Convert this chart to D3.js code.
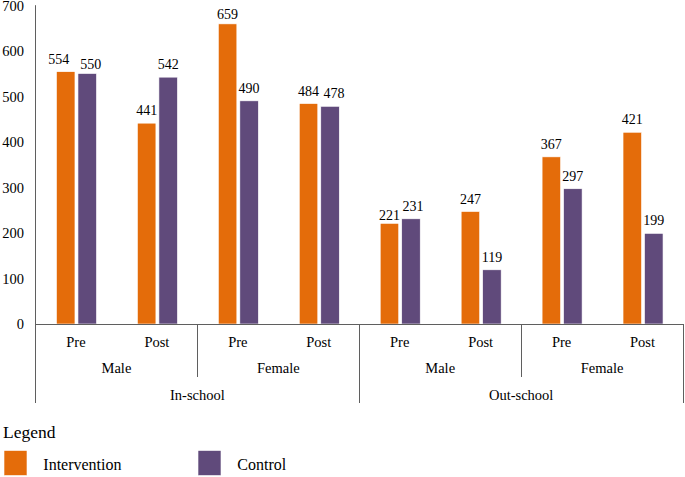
<!DOCTYPE html>
<html>
<head>
<meta charset="utf-8">
<script src="https://cdn.jsdelivr.net/npm/d3@7"></script>
<style>
  html, body { margin: 0; padding: 0; background: #fff; }
  text { font-family: "Liberation Serif"; }
</style>
</head>
<body>
<svg id="chart" width="685" height="477" font-family="Liberation Serif"></svg>
<script>
// ---- data ----
const schools = ["In-school", "Out-school"];
const genders = ["Male", "Female"];
const phases = ["Pre", "Post"];
const seriesNames = ["Intervention", "Control"];
const intervention = [554, 441, 659, 484, 221, 247, 367, 421];
const control = [550, 542, 490, 478, 231, 119, 297, 199];
const yTicks = [0, 100, 200, 300, 400, 500, 600, 700];
const colors = ["#E46C0A", "#604A7B"];
// manual label nudges (layout only): [dx, dy] per category, per series
const nudgeIntervention = [[-7, 0], [0, 0], [0, 3], [0, 0], [0, 5], [0, 0], [0, 0], [0, 0]];
const nudgeControl = [[3.5, 3], [0, 0], [0, 0], [4, 0], [2, 0], [0, 0], [0, 0], [0, 0]];

(function () {
const FONT = "'Liberation Serif'";
const categories = [];
schools.forEach(s => genders.forEach(g => phases.forEach(p => categories.push({s, g, p, key: s + "|" + g + "|" + p}))));

const svg = d3.select("#chart");
const pLeft = 35.5, pRight = 683, pTop = 5.2, pBottom = 324;
const groupW = 40;

const x0 = d3.scaleBand().domain(categories.map(c => c.key)).range([pLeft, pRight]).padding(0);
const x1 = d3.scaleBand().domain(seriesNames).range([0, groupW]).paddingInner(0.14);
const y = d3.scaleLinear().domain([0, 700]).range([pBottom, pTop]);

const lineColor = "#5f5f5f";

// y axis labels
svg.append("g").selectAll("text").data(yTicks).join("text")
  .style("font-family", FONT).attr("font-family", "Liberation Serif")
  .attr("x", 24).attr("y", d => Math.max(y(d), 6)).attr("dy", "0.36em")
  .attr("text-anchor", "end").attr("font-size", 14.5).text(d => d);

// y axis line
svg.append("line").attr("x1", pLeft).attr("x2", pLeft).attr("y1", pTop).attr("y2", pBottom)
  .attr("stroke", lineColor).attr("stroke-width", 1);

// bars
const groups = svg.append("g").selectAll("g").data(categories).join("g")
  .attr("transform", d => `translate(${x0(d.key) + (x0.bandwidth() - groupW) / 2 + 0.5},0)`);

const vals = [intervention, control];
const nudges = [nudgeIntervention, nudgeControl];
groups.each(function(d, i) {
  const g = d3.select(this);
  seriesNames.forEach((sn, j) => {
    const v = vals[j][i];
    g.append("rect")
      .attr("x", x1(sn)).attr("y", y(v))
      .attr("width", x1.bandwidth()).attr("height", y(0) - y(v))
      .attr("fill", colors[j]).attr("stroke", "#fff").attr("stroke-width", 0.6);
    g.append("text")
      .style("font-family", FONT).attr("font-family", "Liberation Serif")
      .attr("x", x1(sn) + x1.bandwidth() / 2 + nudges[j][i][0]).attr("y", y(v) - 8 + nudges[j][i][1])
      .attr("text-anchor", "middle").attr("font-size", 14).text(v);
  });
});

// x axis line
svg.append("line").attr("x1", pLeft).attr("x2", pRight).attr("y1", pBottom + 0.5).attr("y2", pBottom + 0.5)
  .attr("stroke", lineColor).attr("stroke-width", 1);

// level 1 labels: phase
svg.append("g").selectAll("text").data(categories).join("text")
  .style("font-family", FONT).attr("font-family", "Liberation Serif")
  .attr("x", d => x0(d.key) + x0.bandwidth() / 2).attr("y", 346.5)
  .attr("text-anchor", "middle").attr("font-size", 14.5).text(d => d.p);

// level 2: gender
const genderGroups = [];
schools.forEach(s => genders.forEach(g => genderGroups.push({s, g})));
svg.append("g").selectAll("text").data(genderGroups).join("text")
  .style("font-family", FONT).attr("font-family", "Liberation Serif")
  .attr("x", d => {
    const a = x0(d.s + "|" + d.g + "|" + phases[0]);
    const b = x0(d.s + "|" + d.g + "|" + phases[phases.length - 1]) + x0.bandwidth();
    return (a + b) / 2;
  })
  .attr("y", 373).attr("text-anchor", "middle").attr("font-size", 14.5).text(d => d.g);

// gender separators
genderGroups.forEach(d => {
  const b = x0(d.s + "|" + d.g + "|" + phases[phases.length - 1]) + x0.bandwidth();
  const isSchoolEnd = d.g === genders[genders.length - 1];
  if (!isSchoolEnd) {
    svg.append("line").attr("x1", Math.round(b) + 0.5).attr("x2", Math.round(b) + 0.5)
      .attr("y1", pBottom).attr("y2", 377).attr("stroke", lineColor);
  }
});

// level 3: school
svg.append("g").selectAll("text").data(schools).join("text")
  .style("font-family", FONT).attr("font-family", "Liberation Serif")
  .attr("x", s => {
    const a = x0(s + "|" + genders[0] + "|" + phases[0]);
    const b = x0(s + "|" + genders[genders.length - 1] + "|" + phases[phases.length - 1]) + x0.bandwidth();
    return (a + b) / 2;
  })
  .attr("y", 400).attr("text-anchor", "middle").attr("font-size", 14.5).text(s => s);

// school separators
const schoolEdges = [pLeft];
schools.forEach(s => schoolEdges.push(x0(s + "|" + genders[genders.length - 1] + "|" + phases[phases.length - 1]) + x0.bandwidth()));
schoolEdges.forEach(xv => {
  const xx = Math.round(xv - 0.5) + 0.5;
  svg.append("line").attr("x1", xx).attr("x2", xx).attr("y1", pBottom).attr("y2", 403).attr("stroke", lineColor);
});

// legend
svg.append("text").style("font-family", FONT).attr("font-family", "Liberation Serif")
  .attr("x", 3).attr("y", 438).attr("font-size", 17.5).text("Legend");
const legendX = [4, 198];
seriesNames.forEach((sn, j) => {
  svg.append("rect").attr("x", legendX[j]).attr("y", 450.5).attr("width", 23).attr("height", 25)
    .attr("fill", colors[j]).attr("stroke", "#fff").attr("stroke-width", 0.6);
  svg.append("text").style("font-family", FONT).attr("font-family", "Liberation Serif")
    .attr("x", legendX[j] + 39.3).attr("y", 470).attr("font-size", 16).text(sn);
});
})();
</script>
</body>
</html>
